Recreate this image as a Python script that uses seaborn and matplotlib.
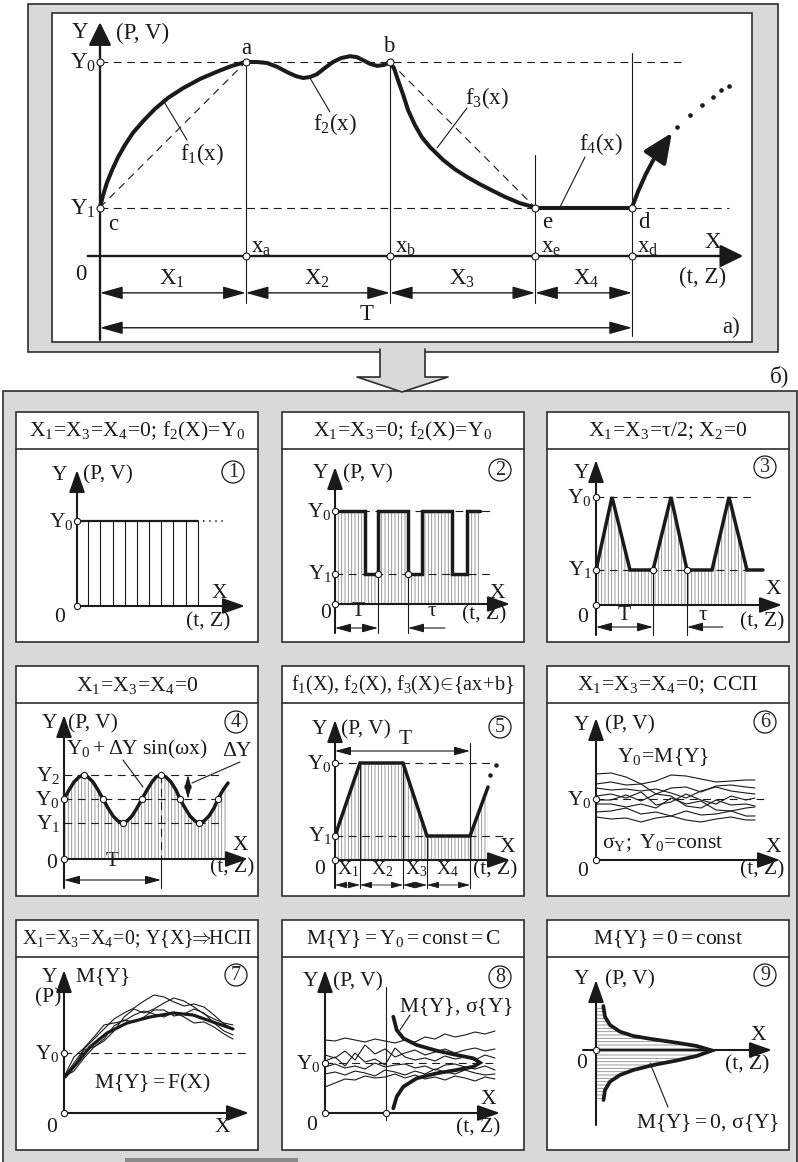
import matplotlib
matplotlib.use('Agg')
import matplotlib.pyplot as plt
import seaborn as sns
from matplotlib.patches import Rectangle, Polygon, Circle

# ---------------- data: panel a) (x: T = 10, y: Y1 = 1) ----------------
xa, xb, xe, xd = 2.74, 5.45, 8.18, 10.0
Y0a, Y1a = 4.0, 1.0
f1_x = [0, 0.06, 0.13, 0.23, 0.34, 0.47, 0.62, 0.81, 1.03, 1.28, 1.56, 1.88, 2.22, 2.48, 2.74]
f1_y = [1.0, 1.26, 1.51, 1.78, 2.04, 2.29, 2.54, 2.78, 3.03, 3.26, 3.46, 3.65, 3.81, 3.92, 4.0]
f2_x = [2.74, 2.95, 3.14, 3.33, 3.52, 3.68, 3.82, 3.95, 4.08, 4.23, 4.38, 4.53, 4.70, 4.83, 4.94, 5.08, 5.21, 5.34, 5.45]
f2_y = [4.0, 4.0, 3.98, 3.90, 3.79, 3.71, 3.67, 3.69, 3.75, 3.88, 4.0, 4.08, 4.12, 4.10, 4.04, 3.96, 3.92, 3.94, 4.0]
f3_x = [5.45, 5.53, 5.60, 5.70, 5.79, 5.92, 6.05, 6.20, 6.45, 6.67, 6.90, 7.14, 7.39, 7.61, 7.89, 8.18]
f3_y = [4.0, 3.86, 3.63, 3.32, 3.01, 2.70, 2.45, 2.25, 1.98, 1.79, 1.63, 1.48, 1.34, 1.22, 1.09, 1.0]
f4_x = [8.18, 10.0]
f4_y = [1.0, 1.0]
f5_x = [10.0, 10.11, 10.26, 10.43, 10.62]
f5_y = [1.0, 1.32, 1.69, 2.04, 2.33]
f5_tip = (10.75, 2.54)
dots_x = [10.85, 11.09, 11.32, 11.52, 11.67, 11.82]
dots_y = [2.66, 2.91, 3.11, 3.28, 3.42, 3.51]

# ---------------- data: panels 1-9 (units of the small schemes) ----------------
p1_Y0 = 8.5
p1_end = 12.1
p1_hatch = [1.1, 2.35, 3.6, 4.8, 6.0, 7.2, 8.4, 9.6, 10.9, 12.1]

p2_Y0, p2_Y1 = 9.3, 3.0
sq_x = [0, 3.0, 3.0, 4.3, 4.3, 7.3, 7.3, 8.7, 8.7, 11.7, 11.7, 13.2, 13.2, 14.5]
sq_y = [9.3, 9.3, 3.0, 3.0, 9.3, 9.3, 3.0, 3.0, 9.3, 9.3, 3.0, 3.0, 9.3, 9.3]

p3_Y0, p3_Y1 = 10.8, 3.5
tri_x = [0, 1.6, 3.4, 5.7, 7.5, 9.1, 11.6, 13.3, 15.1, 16.7]
tri_y = [3.5, 10.8, 3.5, 3.5, 10.8, 3.5, 3.5, 10.8, 3.5, 3.5]

p4_Y2, p4_Y0, p4_Y1 = 8.4, 6.0, 3.6
sin_x = [0, 0.5, 1.0, 1.5, 2.0, 2.4, 2.9, 3.4, 3.9, 4.4, 4.9, 5.4, 5.9, 6.3, 6.8, 7.3, 7.8,
         8.3, 8.8, 9.2, 9.7, 10.2, 10.7, 11.2, 11.6, 12.1, 12.6, 13.1, 13.5, 14.0, 14.5, 15.0,
         15.4, 15.9, 16.4]
sin_y = [6.0, 6.9, 7.7, 8.2, 8.4, 8.2, 7.7, 6.9, 6.0, 5.1, 4.3, 3.8, 3.6, 3.8, 4.3, 5.1, 6.0,
         6.9, 7.7, 8.2, 8.4, 8.2, 7.7, 6.9, 6.0, 5.1, 4.3, 3.8, 3.6, 3.8, 4.3, 5.1,
         6.0, 6.9, 7.6]
sin_mx = [0, 2.0, 3.9, 5.9, 7.8, 9.7, 11.6, 13.5, 15.4]
sin_my = [6.0, 8.4, 6.0, 3.6, 6.0, 8.4, 6.0, 3.6, 6.0]

p5_Y0, p5_Y1 = 9.7, 2.4
trap_x = [0, 2.5, 6.8, 9.2, 13.5, 15.3]
trap_y = [2.4, 9.7, 9.7, 2.4, 2.4, 7.3]
trap_dots_x = [15.5, 16.1]
trap_dots_y = [8.5, 9.5]

p6_Y0 = 6.1
ssp_x = [0, 1.5, 3, 4.5, 6, 7.5, 9, 10.5, 12, 13.5, 15, 15.9]
ssp_lines = [
    [8.6, 8.7, 8.3, 7.6, 7.9, 8.5, 8.4, 8.1, 7.8, 7.9, 8.0, 8.0],
    [7.6, 7.8, 7.5, 7.6, 6.6, 7.2, 7.3, 6.8, 7.4, 7.5, 7.3, 7.2],
    [7.2, 7.0, 7.1, 6.9, 7.1, 6.7, 6.2, 6.9, 7.3, 6.9, 6.7, 6.6],
    [6.4, 6.6, 6.2, 6.8, 5.5, 5.8, 6.6, 6.0, 5.6, 6.4, 6.0, 6.2],
    [6.0, 6.0, 6.5, 5.9, 6.6, 6.4, 5.4, 5.2, 6.0, 5.5, 5.6, 5.4],
    [5.6, 5.6, 5.3, 5.6, 5.2, 6.2, 5.6, 5.9, 5.0, 4.9, 5.2, 5.3],
    [4.8, 4.9, 5.2, 4.6, 4.8, 4.4, 4.9, 4.5, 4.6, 4.9, 4.4, 4.4],
    [4.3, 4.1, 4.2, 3.8, 4.2, 4.4, 4.0, 3.8, 4.1, 4.3, 4.0, 4.0],
]

p7_Y0 = 6.0
mean_x = [0.1, 1.3, 2.6, 4.3, 6.3, 8.6, 10.9, 12.9, 14.9, 16.9]
mean_y = [3.6, 5.0, 6.6, 8.0, 9.0, 9.6, 10.0, 9.8, 9.1, 8.4]
nsp_x = [0, 1, 2, 3, 4, 5, 6, 7, 8, 9, 10, 11, 12, 13, 14, 15, 16, 16.9]
nsp_lines = [
    [3.6, 5.0, 6.4, 7.4, 8.4, 9.4, 10.0, 10.5, 11.2, 11.8, 11.6, 11.1, 10.7, 10.9, 10.6, 9.8, 8.9, 8.4],
    [3.6, 4.2, 5.5, 6.6, 7.2, 8.2, 9.6, 10.4, 10.0, 10.4, 11.0, 11.5, 11.2, 10.6, 9.9, 9.4, 9.0, 8.8],
    [3.6, 5.6, 6.5, 7.6, 8.8, 9.0, 9.2, 9.8, 10.2, 9.9, 9.6, 10.1, 9.6, 9.0, 9.1, 8.6, 7.9, 7.4],
    [3.6, 4.6, 6.3, 6.6, 7.4, 8.7, 9.3, 9.1, 9.6, 10.3, 10.3, 9.7, 9.9, 10.4, 10.0, 9.0, 8.2, 7.8],
]

p8_Y0 = 5.0
p8_cut = 6.1
jag_x = [0, 1, 2, 3, 4, 5, 6, 7, 8, 9, 10, 11, 12, 13, 14, 15, 16, 17]
jag_lines = [
    [7.3, 7.2, 7.5, 7.3, 7.1, 7.4, 7.2, 7.0, 7.3, 7.1, 7.6, 7.4, 7.9, 7.6, 7.8, 8.1, 7.9, 8.2],
    [5.8, 5.5, 6.2, 5.3, 6.8, 5.9, 6.4, 5.6, 6.0, 6.3, 5.8, 6.1, 6.4, 6.0, 6.3, 6.5, 6.2, 6.4],
    [5.2, 5.6, 4.7, 6.0, 5.1, 5.4, 4.8, 6.5, 5.6, 5.3, 5.5, 5.2, 5.7, 5.4, 5.6, 5.3, 5.8, 5.5],
    [4.6, 4.9, 4.5, 4.7, 4.4, 5.0, 4.6, 4.8, 4.9, 4.5, 4.7, 4.3, 4.8, 4.9, 4.6, 4.4, 4.7, 4.3],
    [3.9, 4.1, 3.8, 4.2, 4.0, 3.7, 4.3, 4.1, 3.8, 4.2, 3.9, 4.4, 4.1, 3.9, 4.3, 4.0, 3.8, 3.9],
    [2.6, 3.0, 3.4, 3.3, 3.7, 3.5, 3.6, 3.9, 3.5, 3.8, 3.4, 3.6, 3.3, 3.7, 3.5, 3.2, 3.6, 3.4],
]
bell8_x = [6.83, 7.17, 7.83, 9.17, 11.17, 13.17, 14.83, 15.5, 14.83, 13.17, 11.17, 9.17, 7.83, 7.17, 6.83]
bell8_y = [9.63, 8.3, 7.47, 6.8, 6.23, 5.8, 5.47, 5.03, 4.63, 4.3, 3.97, 3.47, 2.63, 1.63, 0.47]

bell9_y = [4.4, 3.33, 2.5, 1.83, 1.4, 1.07, 0.73, 0.4, -0.05, -0.6, -1.05, -1.5, -2.0, -2.5, -3.17, -4.0, -5.0]
bell9_x = [0.73, 0.9, 1.4, 2.4, 3.73, 5.73, 8.07, 10.07, 11.6, 10.07, 8.07, 5.73, 3.73, 2.4, 1.4, 0.9, 0.75]

headers = {
    1: r'$X_1\!=\!X_3\!=\!X_4\!=\!0;\,f_2(X)\!=\!Y_0$',
    2: r'$X_1\!=\!X_3\!=\!0;\,f_2(X)\!=\!Y_0$',
    3: r'$X_1\!=\!X_3\!=\!\tau/2;\,X_2\!=\!0$',
    4: r'$X_1\!=\!X_3\!=\!X_4\!=\!0$',
    5: r'$f_1(X),\,f_2(X),\,f_3(X)\!\in\!\{ax\!+\!b\}$',
    6: r'$X_1\!=\!X_3\!=\!X_4\!=\!0;$ ССП',
    7: r'$X_1\!=\!X_3\!=\!X_4\!=\!0;\,Y\{X\}\!\!\Rightarrow\!\!$НСП',
    8: r'$M\{Y\} = Y_0 = \mathrm{const} = C$',
    9: r'$M\{Y\} = 0 = \mathrm{const}$',
}
header_size = {5: 14.5, 7: 14.3}

# ---------------- layout ----------------
FW, FH = 798, 1162
GREY = '#d9d9d9'
EDGE = '#2e2e2e'
BOXES = {1: (16, 412), 2: (282, 412), 3: (547, 412), 4: (16, 666), 5: (282, 666),
         6: (547, 666), 7: (16, 920), 8: (282, 920), 9: (547, 920)}
BOX_W, BOX_H, HEAD_H = 242, 230, 37
ORIGINS = {1: (77, 606), 2: (335, 604), 3: (596, 605), 4: (64, 859), 5: (335, 860),
           6: (596, 860), 7: (64, 1113), 8: (325, 1113), 9: (596, 1050)}
FS = 15.5   # small schemes
FA = 16.5   # panel a)

sns.set_theme(style='white')
plt.rcParams['font.family'] = ['Liberation Serif', 'DejaVu Serif']
plt.rcParams['mathtext.fontset'] = 'custom'
plt.rcParams['mathtext.rm'] = 'Liberation Serif'
plt.rcParams['mathtext.it'] = 'Liberation Serif:italic'
plt.rcParams['mathtext.bf'] = 'Liberation Serif:bold'
plt.rcParams['mathtext.default'] = 'rm'
plt.rcParams['hatch.linewidth'] = 0.6

fig = plt.figure(figsize=(FW / 100, FH / 100), dpi=100)
bg = fig.add_axes([0, 0, 1, 1])
bg.set_xlim(0, FW)
bg.set_ylim(FH, 0)
bg.set_axis_off()

limits = []


def txt(x, y, s, size=FS, ha='center', va='center'):
    bg.text(x, y, s, fontsize=size, ha=ha, va=va, color='k')


def leader(x0, y0, x1, y1):
    bg.plot([x0, x1], [y0, y1], color='k', lw=0.8)


def badge(x, y, n):
    bg.add_patch(Circle((x, y), 11, fc='none', ec='k', lw=0.9))
    bg.text(x, y + 0.5, str(n), fontsize=14.5, ha='center', va='center')


def arrow(ax, x0, y0, x1, y1, lw=1.5, scale=16, hl=0.85, hw=0.3):
    ax.annotate('', xy=(x1, y1), xytext=(x0, y0),
                arrowprops=dict(arrowstyle=f'-|>,head_length={hl},head_width={hw}',
                                lw=lw, color='k', shrinkA=0, shrinkB=0,
                                mutation_scale=scale))


def dim(ax, x0, x1, y, vertical=False, lw=0.8, scale=12, hl=0.8, hw=0.22):
    a, b = ((y, x0), (y, x1)) if vertical else ((x0, y), (x1, y))
    ax.annotate('', xy=b, xytext=a,
                arrowprops=dict(arrowstyle=f'<|-|>,head_length={hl},head_width={hw}',
                                lw=lw, color='k', shrinkA=0, shrinkB=0,
                                mutation_scale=scale))


def guide(ax, x, y, dashed=True, lw=0.8):
    ax.plot(x, y, color='k', lw=lw, ls=(0, (7, 5)) if dashed else '-')


def curve(ax, x, y, lw=2.5):
    sns.lineplot(x=x, y=y, ax=ax, color='k', lw=lw, sort=False, estimator=None,
                 solid_joinstyle='miter')


def marks(ax, x, y, ms=4.5):
    ax.plot(x, y, 'o', ms=ms, mfc='white', mec='k', mew=0.8, zorder=6, clip_on=False)


def hatch_under(ax, x, y, pattern='|||||'):
    ax.fill_between(x, 0, y, facecolor='none', edgecolor='#8a8a8a', lw=0, hatch=pattern)


def panel_axes(n):
    L, top = BOXES[n]
    ox, oy = ORIGINS[n]
    hb = top + HEAD_H
    bot = top + BOX_H
    ax = fig.add_axes([L / FW, 1 - bot / FH, BOX_W / FW, (bot - hb) / FH])
    xl = ((L - ox) / 10, (L + BOX_W - ox) / 10)
    yl = ((oy - bot) / 10, (oy - hb) / 10)
    ax.set_xlim(*xl)
    ax.set_ylim(*yl)
    ax.set_axis_off()
    limits.append((ax, xl, yl))
    return ax


# ---------------- frames ----------------
bg.add_patch(Rectangle((28, 4), 750, 348, fc=GREY, ec=EDGE, lw=1.2))
bg.add_patch(Rectangle((52, 13), 700, 329, fc='white', ec=EDGE, lw=1.2))
bg.add_patch(Rectangle((3, 391), 794, 800, fc=GREY, ec=EDGE, lw=1.2))
arrow_pts = [(380, 349), (380, 377), (357, 377), (402, 392), (448, 377), (425, 377), (425, 349)]
bg.add_patch(Polygon(arrow_pts, closed=True, fc=GREY, ec='none'))
bg.plot([p[0] for p in arrow_pts], [p[1] for p in arrow_pts], color=EDGE, lw=1.2)
bg.add_patch(Rectangle((125, 1158), 173, 4, fc='#8a8a8a', ec='none'))
txt(780, 376, 'б)', FA)
txt(731, 327, 'a)', FA)

for n, (L, top) in BOXES.items():
    bg.add_patch(Rectangle((L, top), BOX_W, BOX_H, fc='white', ec=EDGE, lw=1.2))
    bg.plot([L, L + BOX_W], [top + HEAD_H, top + HEAD_H], color=EDGE, lw=1.2)
    txt(L + BOX_W / 2, top + HEAD_H / 2 + 1, headers[n], header_size.get(n, FS))

# ---------------- panel a) ----------------
axa = fig.add_axes([52 / FW, 1 - 342 / FH, 700 / FW, 329 / FH])
xla = (-48 / 53.2, 652 / 53.2)
yla = ((256 - 342) / 48.5, (256 - 13) / 48.5)
axa.set_xlim(*xla)
axa.set_ylim(*yla)
axa.set_axis_off()
limits.append((axa, xla, yla))

guide(axa, [0, 10.92], [Y0a, Y0a])
guide(axa, [0, 11.82], [Y1a, Y1a])
guide(axa, [0, xa], [Y1a, Y0a])
guide(axa, [xb, xe], [Y0a, Y1a])
for xv, ytop, ybot in [(xa, Y0a, -0.97), (xb, Y0a, -0.97), (xe, 2.08, -0.97), (xd, 4.19, -1.65)]:
    guide(axa, [xv, xv], [ytop, ybot], dashed=False)
arrow(axa, 0, -1.73, 0, 4.82, lw=1.7, scale=22, hl=0.65, hw=0.32)
arrow(axa, -0.23, 0, 12.09, 0, lw=1.7, scale=22, hl=0.65, hw=0.32)
for x0, x1 in [(0, xa), (xa, xb), (xb, xe), (xe, xd)]:
    dim(axa, x0, x1, -0.76, lw=1.0, scale=14, hl=1.0, hw=0.28)
dim(axa, 0, xd, -1.48, lw=1.0, scale=14, hl=1.0, hw=0.28)
for fx, fy in [(f1_x, f1_y), (f2_x, f2_y), (f3_x, f3_y), (f4_x, f4_y), (f5_x, f5_y)]:
    curve(axa, fx, fy, lw=2.9)
arrow(axa, f5_x[-1], f5_y[-1], f5_tip[0], f5_tip[1], lw=2.9, scale=20, hl=0.9, hw=0.4)
axa.plot(dots_x, dots_y, 'o', ms=2.3, color='k')
marks(axa, [0, 0, xa, xb, xe, xd, xa, xb, xe, xd],
      [Y0a, Y1a, Y0a, Y0a, Y1a, Y1a, 0, 0, 0, 0], ms=5)

txt(80, 33, 'Y', FA)
txt(143, 33, '(P, V)', FA)
txt(96, 63, r'$Y_0$', FA, ha='right')
txt(96, 209, r'$Y_1$', FA, ha='right')
txt(113, 224, 'c', FA)
txt(246, 48, 'a', FA)
txt(389, 46, 'b', FA)
txt(547, 223, 'e', FA)
txt(644, 223, 'd', FA)
for xpos, lab in [(251, 'x_a'), (395, 'x_b'), (541, 'x_e'), (637, 'x_d')]:
    txt(xpos, 247, f'${lab}$', FA, ha='left')
txt(713, 243, 'X', FA)
txt(703, 277, '(t, Z)', FA)
txt(81, 275, '0', FA)
for xpos, lab in [(172, 'X_1'), (317, 'X_2'), (462, 'X_3'), (586, 'X_4')]:
    txt(xpos, 279, f'${lab}$', FA)
txt(367, 315, 'T', FA)
txt(202, 154, r'$f_1(x)$', FA)
txt(335, 124, r'$f_2(x)$', FA)
txt(487, 98, r'$f_3(x)$', FA)
txt(601, 144, r'$f_4(x)$', FA)
leader(163, 100, 187, 140)
leader(310, 78, 330, 112)
leader(437, 148, 467, 108)
leader(560, 207, 585, 157)

# ---------------- panel 1 ----------------
ax = panel_axes(1)
arrow(ax, 0, 0, 0, 13.6)
arrow(ax, 0, 0, 16.8, 0)
ax.vlines(p1_hatch, 0, p1_Y0, color='k', lw=0.8)
ax.plot([0, p1_end], [p1_Y0, p1_Y0], color='k', lw=1.6)
ax.plot([12.6, 14.8], [p1_Y0, p1_Y0], color='k', lw=1.1, ls=(0, (1, 3)))
marks(ax, [0, 0], [0, p1_Y0])
txt(60, 475, 'Y')
txt(108, 475, '(P, V)')
txt(74, 521, r'$Y_0$', ha='right')
txt(60, 617, '0')
txt(219, 594, 'X')
txt(208, 622, '(t, Z)')
badge(233, 472, 1)

# ---------------- panel 2 ----------------
ax = panel_axes(2)
hatch_under(ax, sq_x, sq_y)
guide(ax, [0, 15.7], [p2_Y0, p2_Y0])
guide(ax, [0, 15.7], [p2_Y1, p2_Y1])
arrow(ax, 0, -2.9, 0, 13.7)
arrow(ax, 0, 0, 17.5, 0)
curve(ax, sq_x, sq_y)
for xv in [4.3, 7.3]:
    guide(ax, [xv, xv], [p2_Y1, -2.9], dashed=False)
dim(ax, 0, 4.3, -2.4)
arrow(ax, 11.0, -2.4, 7.3, -2.4, lw=0.8, scale=12, hl=0.8, hw=0.22)
marks(ax, [0, 0, 0, 4.3, 7.3], [0, p2_Y1, p2_Y0, p2_Y1, p2_Y1])
txt(321, 474, 'Y')
txt(368, 474, '(P, V)')
txt(332, 511, r'$Y_0$', ha='right')
txt(332, 574, r'$Y_1$', ha='right')
txt(326, 614, '0')
txt(497, 593, 'X')
txt(484, 615, '(t, Z)')
txt(358, 612, 'T')
txt(432, 612, r'$\tau$')
badge(500, 470, 2)

# ---------------- panel 3 ----------------
ax = panel_axes(3)
hatch_under(ax, tri_x[:9], tri_y[:9])
guide(ax, [0, 15.7], [p3_Y0, p3_Y0])
guide(ax, [0, 15.7], [p3_Y1, p3_Y1])
arrow(ax, 0, -3.0, 0, 14.5)
arrow(ax, 0, 0, 18.6, 0)
curve(ax, tri_x, tri_y)
for xv in [5.7, 9.1]:
    guide(ax, [xv, xv], [p3_Y1, -3.0], dashed=False)
dim(ax, 0, 5.7, -2.2)
arrow(ax, 12.7, -2.2, 9.1, -2.2, lw=0.8, scale=12, hl=0.8, hw=0.22)
marks(ax, [0, 0, 0, 5.7, 9.1], [0, p3_Y1, p3_Y0, p3_Y1, p3_Y1])
txt(582, 473, 'Y')
txt(592, 497, r'$Y_0$', ha='right')
txt(592, 570, r'$Y_1$', ha='right')
txt(583, 618, '0')
txt(773, 590, 'X')
txt(762, 622, '(t, Z)')
txt(624, 615, 'T')
txt(703, 615, r'$\tau$')
badge(765, 467, 3)

# ---------------- panel 4 ----------------
ax = panel_axes(4)
hatch_under(ax, sin_x, sin_y)
for yv in [p4_Y2, p4_Y0, p4_Y1]:
    guide(ax, [0, 15.9], [yv, yv])
guide(ax, [9.7, 9.7], [p4_Y2, 0])
guide(ax, [9.7, 9.7], [0, -2.9], dashed=False)
arrow(ax, 0, -2.9, 0, 14.4)
arrow(ax, 0, 0, 18.4, 0)
curve(ax, sin_x, sin_y)
dim(ax, 0, 9.7, -2.1)
dim(ax, p4_Y0, p4_Y2, 12.4, vertical=True, scale=10)
marks(ax, sin_mx + [0], sin_my + [0])
txt(50, 724, 'Y')
txt(93, 724, '(P, V)')
txt(137, 749, r'$Y_0 + \Delta Y\ \sin(\omega x)$')
txt(237, 751, r'$\Delta Y$')
txt(60, 775, r'$Y_2$', ha='right')
txt(60, 799, r'$Y_0$', ha='right')
txt(60, 823, r'$Y_1$', ha='right')
txt(52, 863, '0')
txt(240, 845, 'X')
txt(232, 868, '(t, Z)')
txt(112, 862, 'T')
leader(123, 760, 143, 787)
leader(192, 783, 240, 762)
badge(236, 722, 4)

# ---------------- panel 5 ----------------
ax = panel_axes(5)
hatch_under(ax, trap_x, trap_y)
guide(ax, [0, 15.7], [p5_Y0, p5_Y0])
guide(ax, [0, 16.8], [p5_Y1, p5_Y1])
for xv, ytop in [(2.5, p5_Y0), (6.8, p5_Y0), (9.2, p5_Y1), (13.5, 11.7)]:
    guide(ax, [xv, xv], [ytop, -2.8], dashed=False)
arrow(ax, 0, -2.8, 0, 14.0)
arrow(ax, 0, 0, 17.5, 0)
curve(ax, trap_x, trap_y)
ax.plot(trap_dots_x, trap_dots_y, 'o', ms=2.2, color='k')
dim(ax, 0, 13.5, 10.9)
for x0, x1 in [(0, 2.5), (2.5, 6.8), (6.8, 9.2), (9.2, 13.5)]:
    dim(ax, x0, x1, -2.5, lw=0.6, scale=9)
marks(ax, [0, 0, 0], [0, p5_Y1, p5_Y0])
txt(320, 730, 'Y')
txt(366, 730, '(P, V)')
txt(405, 739, 'T')
txt(332, 763, r'$Y_0$', ha='right')
txt(332, 836, r'$Y_1$', ha='right')
txt(320, 870, '0')
txt(507, 847, 'X')
txt(495, 870, '(t, Z)')
for xpos, lab in [(348, 'X_1'), (382, 'X_2'), (416, 'X_3'), (447, 'X_4')]:
    txt(xpos, 869, f'${lab}$', 14)
badge(500, 727, 5)

# ---------------- panel 6 ----------------
ax = panel_axes(6)
for ly in ssp_lines:
    curve(ax, ssp_x, ly, lw=0.8)
guide(ax, [0, 16.9], [p6_Y0, p6_Y0])
arrow(ax, 0, 0, 0, 14.2)
arrow(ax, 0, 0, 18.4, 0)
marks(ax, [0, 0], [0, p6_Y0])
txt(582, 725, 'Y')
txt(630, 725, '(P, V)')
txt(663, 757, r'$Y_0\!=\!M\{Y\}$')
txt(592, 799, r'$Y_0$', ha='right')
txt(663, 843, r'$\sigma_Y;\ Y_0\!=\!\mathrm{const}$')
txt(773, 847, 'X')
txt(762, 870, '(t, Z)')
txt(583, 872, '0')
badge(765, 722, 6)

# ---------------- panel 7 ----------------
ax = panel_axes(7)
for ly in nsp_lines:
    curve(ax, nsp_x, ly, lw=0.8)
curve(ax, mean_x, mean_y, lw=2.3)
guide(ax, [0, 18.3], [p7_Y0, p7_Y0])
arrow(ax, 0, 0, 0, 14.3)
arrow(ax, 0, 0, 18.5, 0)
marks(ax, [0, 0], [0, p7_Y0])
txt(50, 977, 'Y')
txt(103, 977, r'$M\{Y\}$')
txt(48, 998, '(P)')
txt(60, 1053, r'$Y_0$', ha='right')
txt(152, 1083, r'$M\{Y\} = F(X)$')
txt(52, 1127, '0')
txt(222, 1127, 'X')
badge(236, 975, 7)

# ---------------- panel 8 ----------------
ax = panel_axes(8)
for ly in jag_lines:
    curve(ax, jag_x, ly, lw=0.8)
guide(ax, [0, 17.2], [p8_Y0, p8_Y0])
guide(ax, [p8_cut, p8_cut], [12.6, -0.7], dashed=False)
arrow(ax, 0, 0, 0, 14.3)
arrow(ax, 0, 0, 17.5, 0)
curve(ax, bell8_x, bell8_y, lw=2.7)
marks(ax, [0, p8_cut, 0], [0, 0, p8_Y0])
txt(311, 982, 'Y')
txt(358, 982, '(P, V)')
txt(456, 1007, r'$M\{Y\},\,\sigma\{Y\}$')
txt(321, 1063, r'$Y_0$', ha='right')
txt(312, 1125, '0')
txt(488, 1100, 'X')
txt(478, 1128, '(t, Z)')
leader(400, 1030, 410, 1015)
badge(500, 977, 8)

# ---------------- panel 9 ----------------
ax = panel_axes(9)
ax.fill_betweenx(bell9_y, 0, bell9_x, facecolor='none', edgecolor='#8a8a8a', lw=0,
                 hatch='-----')
arrow(ax, 0, -7.5, 0, 7.0)
arrow(ax, -1.3, 0, 17.6, 0)
curve(ax, bell9_x, bell9_y, lw=2.7)
marks(ax, [0], [0])
txt(582, 980, 'Y')
txt(630, 980, '(P, V)')
txt(758, 1036, 'X')
txt(747, 1065, '(t, Z)')
txt(582, 1063, '0')
txt(708, 1123, r'$M\{Y\} = 0,\,\sigma\{Y\}$')
leader(650, 1063, 668, 1107)
badge(765, 975, 9)

for a, xl, yl in limits:
    a.set_xlim(*xl)
    a.set_ylim(*yl)
    a.set_axis_off()

fig.savefig('out.png', dpi=100)
